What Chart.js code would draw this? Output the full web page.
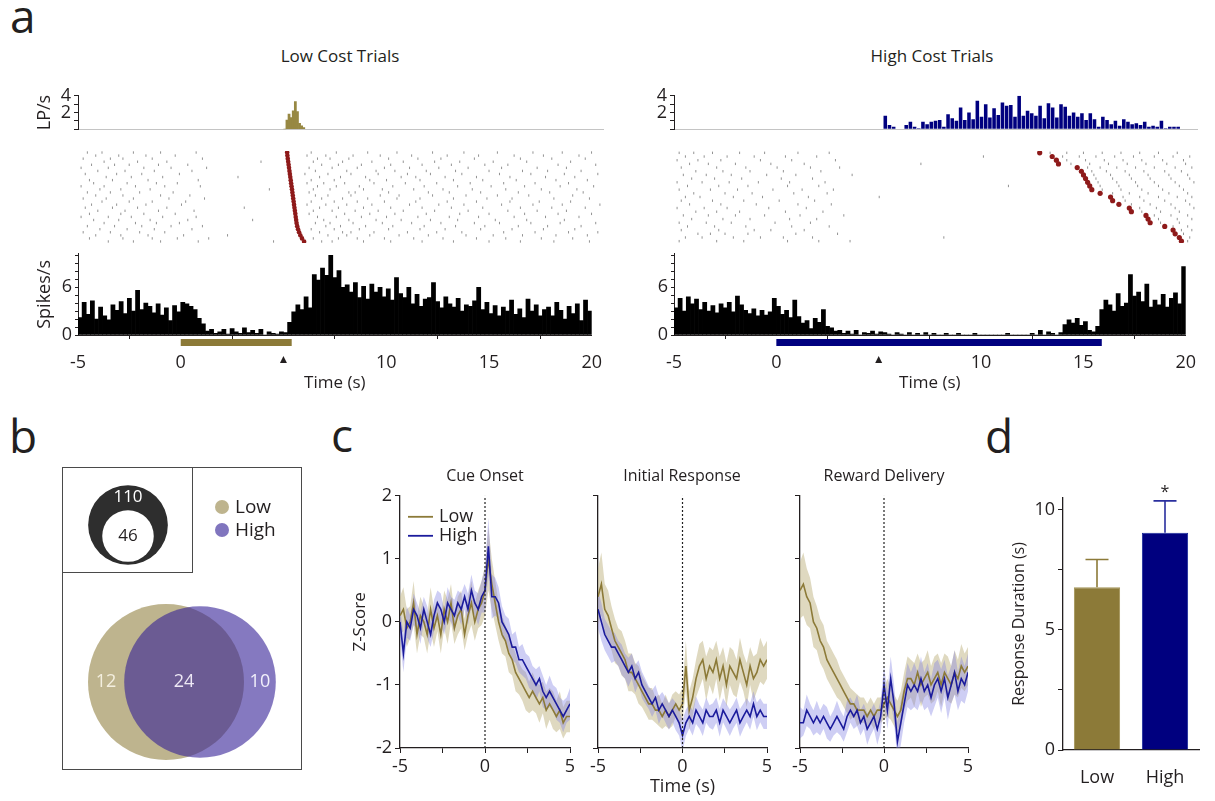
<!DOCTYPE html>
<html><head><meta charset="utf-8"><title>Figure</title>
<script src="https://cdn.jsdelivr.net/npm/chart.js@4.4.1/dist/chart.umd.min.js"></script>
<style>
html,body{margin:0;padding:0;background:#fff}
#fig{position:relative;width:1215px;height:801px;overflow:hidden;font-family:'Open Sans',sans-serif;color:#231f20}
#fig canvas{position:absolute}
.lab{position:absolute;white-space:nowrap;transform:translate(-50%,-50%);line-height:1}
.letter{position:absolute;font-size:46px;line-height:1}
.box{position:absolute;border:1px solid #4a4a4a;box-sizing:border-box}
</style></head><body><div id="fig">
<div class="letter" style="left:10px;top:-8px">a</div>
<div class="letter" style="left:9px;top:412px">b</div>
<div class="letter" style="left:331px;top:411px">c</div>
<div class="letter" style="left:985px;top:412px">d</div>
<div class="lab" style="left:340px;top:55px;font-size:17px">Low Cost Trials</div>
<div class="lab" style="left:932px;top:55px;font-size:17px">High Cost Trials</div>
<div class="lab" style="left:485px;top:475px;font-size:16px">Cue Onset</div>
<div class="lab" style="left:682px;top:475px;font-size:16px">Initial Response</div>
<div class="lab" style="left:884px;top:475px;font-size:16px">Reward Delivery</div>
</div>
<script>
// ================= DATA =================
// Panel a : peri-event histograms (0.2 s bins from -5 s to 20 s)
const spikeBinStart = -5, spikeBinWidth = 0.2;
const lowSpikeRate = [
  2.2,4.1,2.6,4.3,2.0, 3.5,2.4,1.9,3.8,3.1, 4.2,2.7,4.6,3.0,5.6, 3.2,4.0,3.6,2.8,3.9, 2.5,3.4,1.8,3.7,2.9,
  4.1,3.9,3.6,3.2,2.1, 1.4,0.5,0.7,0.2,0.4, 0.7,0.1,0.8,0.4,0.2, 0.9,0.3,0.6,0.2,0.7, 0.0,0.4,0.2,0.1,0.4,
  0.3,1.6,2.9,3.8,3.2, 4.8,3.4,7.6,6.9,8.4, 7.5,10.0,7.2,8.1,6.0, 6.3,5.4,6.6,4.7,6.1, 4.5,6.4,5.4,6.0,4.8,
  5.8,4.4,7.2,5.2,4.7, 6.0,3.9,5.1,3.6,4.5, 4.7,6.6,4.2,3.4,4.8, 3.9,3.5,4.6,3.0,3.8, 3.6,4.3,6.0,3.2,4.1,
  2.7,3.7,2.4,3.5,3.0, 4.4,2.6,3.3,2.2,4.5, 3.0,3.8,2.4,3.2,3.5, 2.4,4.1,3.1,2.0,3.6, 2.7,3.9,1.8,4.4,3.0
];
const highSpikeRate = [
  3.4,4.6,3.0,4.8,3.9, 4.5,3.2,4.1,3.0,3.7, 2.8,3.9,3.4,4.1,2.9, 4.9,3.8,3.1,2.7,3.3, 2.4,3.1,2.5,2.9,4.6,
  3.6,2.6,3.1,2.2,4.4, 2.3,1.5,1.8,0.8,2.1, 1.6,3.2,1.1,0.9,0.5, 0.6,0.2,0.5,0.1,0.6, 0.0,0.3,0.2,0.5,0.1,
  0.4,0.3,0.1,0.0,0.3, 0.1,0.0,0.3,0.0,0.2, 0.0,0.3,0.0,0.2,0.0, 0.0,0.2,0.0,0.0,0.2, 0.0,0.0,0.0,0.2,0.0,
  0.0,0.0,0.0,0.0,0.0, 0.0,0.2,0.0,0.0,0.0, 0.0,0.0,0.2,0.0,0.6, 0.0,0.4,0.2,0.0,0.3, 1.3,1.9,1.5,2.1,1.2,
  1.7,0.6,0.4,1.1,3.2, 4.4,3.8,3.0,5.2,3.6, 4.0,7.6,4.9,5.4,4.2, 6.4,3.5,4.4,3.8,5.1, 3.5,4.6,5.3,3.9,8.6
];
// lever presses per second
const lowLeverStart = 4.8, lowLeverWidth = 0.1;
const lowLeverRate = [0.0,1.1,1.8,1.4,2.2,3.3,2.1,0.7,0.4,0.2];
const highLeverStart = 5.0, highLeverWidth = 0.2;
const highLeverRate = [
  1.6,0.5,0.3,0,0, 0.5,0.9,0.3,0.1,0.9, 0.6,0.9,1.0,1.1,0.3, 1.8,1.3,1.0,2.6,1.1, 2.0,1.2,3.4,1.5,3.0,
  1.4,2.5,1.7,3.2,2.8, 2.9,1.5,4.0,1.6,2.2, 1.9,1.6,2.8,1.3,3.1, 2.6,1.4,3.0,2.7,1.6, 2.0,1.5,1.9,1.1,1.9,
  1.2,0.3,1.5,1.1,0.6, 1.0,0.4,1.2,0.9,0.6, 0.7,0.5,0.9,0.3,0.4, 0.3,1.0,0.1,0.3,0.3, 0.3,0.0
];
// cue period (s)
const lowCuePeriod = [0, 5.4];
const highCuePeriod = [0, 15.9];
// raster: lever press time per trial and spike times per trial
const lowPressTimes = [4.95,4.96,4.98,5.0,5.02,5.04,5.06,5.08,5.1,5.12,5.14,5.16,5.18,5.2,5.22,5.24,5.26,5.28,5.3,5.32,5.34,5.36,5.38,5.4,5.43,5.47,5.52,5.58,5.66,5.76];
const lowRaster = [
  [-4.6,-3.9,-2.4,-1.1,0.6,6.1,7.3,8.8,10.2,11.9,13.4,15.0,16.7,18.1,19.5],
  [-4.2,-3.1,-1.8,-0.4,5.9,6.8,8.1,9.4,10.9,12.6,14.1,15.8,17.2,18.9],
  [-4.8,-3.5,-2.9,-1.5,0.9,6.4,7.0,7.9,9.8,11.2,12.3,13.9,16.1,17.6,19.2],
  [-3.8,-2.2,-0.8,3.7,6.2,7.6,9.0,10.5,12.0,13.2,14.8,16.4,18.5],
  [-4.4,-3.3,-2.6,-1.2,0.2,6.6,7.4,8.5,9.9,11.4,12.8,14.4,15.5,17.9,19.7],
  [-4.9,-3.6,-1.9,-0.6,1.1,6.0,7.1,8.3,9.6,10.8,12.2,13.6,15.2,16.9,18.3],
  [-4.1,-2.8,-1.4,0.4,6.3,7.8,9.2,10.1,11.6,13.0,14.6,16.2,17.4,19.0],
  [-4.7,-3.2,-2.0,-0.2,5.8,6.9,8.0,9.3,10.7,11.8,13.3,15.1,16.6,18.2,19.8],
  [-3.7,-2.5,-1.0,2.6,6.5,7.5,8.7,10.4,11.1,12.5,14.0,15.6,17.3,18.7],
  [-4.5,-3.4,-1.7,0.7,6.1,7.2,8.9,9.7,11.3,12.9,14.3,15.9,17.8,19.3],
  [-4.3,-2.7,-1.3,-0.3,5.9,6.7,7.7,9.1,10.6,12.1,13.7,15.3,16.8,18.4],
  [-4.9,-3.8,-2.3,-0.9,0.8,6.4,7.3,8.4,10.0,11.5,13.1,14.7,16.3,18.0,19.6],
  [-4.0,-3.0,-1.6,4.1,6.2,7.0,8.6,9.5,11.0,12.4,13.8,15.4,17.1,18.8],
  [-4.6,-3.5,-2.1,-0.5,6.0,7.9,8.2,9.8,11.7,12.7,14.2,16.0,17.5,19.1],
  [-4.2,-2.9,-1.1,0.3,6.3,6.9,8.0,9.4,10.3,11.9,13.5,15.0,16.5,18.6],
  [-4.8,-3.7,-2.4,-0.7,1.0,6.6,7.6,8.8,10.2,11.3,12.9,14.5,15.7,17.7,19.4],
  [-3.9,-2.6,-1.5,0.1,6.1,7.2,8.3,9.6,11.1,12.6,14.0,15.6,17.0,18.5],
  [-4.4,-3.2,-1.8,-0.1,5.9,6.8,7.8,9.0,10.8,12.2,13.4,15.2,16.7,18.1,19.9],
  [-4.7,-3.4,-2.2,-0.8,2.9,6.5,7.4,8.6,9.9,11.4,12.8,14.3,16.1,17.6,19.2],
  [-4.1,-2.8,-1.2,0.5,6.2,7.1,8.2,9.3,10.5,12.0,13.6,15.5,16.9,18.3],
  [-4.5,-3.0,-1.9,-0.4,6.0,7.7,8.9,10.1,11.6,13.2,14.6,16.3,17.9,19.5],
  [-4.9,-3.6,-2.5,-1.0,0.6,6.4,7.3,8.5,9.7,11.2,12.7,14.1,15.8,17.3,18.9],
  [-4.3,-3.1,-1.6,0.2,3.3,6.7,7.9,9.2,10.4,11.8,13.1,14.9,16.4,18.2],
  [-3.8,-2.3,-1.3,-0.2,6.3,7.0,8.1,9.5,10.9,12.3,13.9,15.1,16.6,18.0,19.7],
  [-4.6,-3.3,-2.0,-0.6,0.9,6.8,7.5,8.7,10.0,11.5,13.0,14.4,16.0,17.4,19.0],
  [-4.0,-2.7,-1.4,0.4,6.1,7.2,8.4,9.8,11.3,12.5,14.2,15.7,17.2,18.7],
  [-4.8,-3.5,-2.1,-0.9,6.5,7.6,8.0,9.1,10.7,12.1,13.3,15.3,16.8,18.4,19.8],
  [-4.2,-3.0,-1.7,0.0,2.1,6.9,7.8,8.9,10.3,11.7,13.5,14.8,16.2,17.8,19.3],
  [-4.5,-2.9,-1.5,-0.3,1.2,6.2,7.4,8.3,9.6,11.0,12.4,14.0,15.4,17.1,18.6],
  [-3.6,-2.4,-1.1,0.7,4.3,6.6,7.1,8.6,9.9,11.4,12.9,14.6,16.1,17.7,19.4]
];
const highPressTimes = [12.5,13.1,13.3,13.4,14.3,14.5,14.6,14.7,14.8,14.9,15.0,15.4,15.9,16.0,16.3,16.8,16.9,17.6,17.7,17.8,18.5,18.9,19.0,19.2,19.3];
const highRaster = [
  [-4.8,-4.1,-3.2,-1.9,-0.7,0.9,2.4,13.0,13.8,14.6,15.5,16.4,17.3,18.2,19.1],
  [-4.5,-3.6,-2.5,-1.2,0.3,1.8,9.8,13.6,14.4,15.2,16.1,17.0,18.0,18.9,19.7],
  [-4.9,-3.9,-2.8,-0.9,0.6,2.7,13.8,14.7,15.6,16.5,17.4,18.4,19.4],
  [-4.3,-3.4,-2.1,-0.4,1.2,6.8,14.0,14.9,15.8,16.7,17.6,18.6,19.5],
  [-4.7,-3.0,-1.6,-0.1,1.5,2.9,14.8,15.4,16.2,17.1,18.0,19.0,19.8],
  [-4.0,-2.7,-1.4,0.2,2.0,15.0,15.7,16.6,17.5,18.5,19.3],
  [-4.6,-3.5,-2.3,-0.6,0.8,3.5,15.1,15.9,16.8,17.7,18.7,19.6],
  [-4.2,-3.1,-1.8,0.1,1.6,15.2,16.0,16.9,17.8,18.8,19.7],
  [-4.9,-3.7,-2.4,-1.0,0.5,2.2,15.3,16.2,17.1,18.0,19.0,19.9],
  [-4.4,-2.9,-1.5,0.4,1.9,11.0,15.4,16.3,17.2,18.2,19.2],
  [-4.8,-3.3,-2.0,-0.3,1.1,2.6,15.5,16.4,17.4,18.4,19.4],
  [-4.1,-2.6,-1.3,0.7,2.3,16.0,16.8,17.7,18.7,19.6],
  [-4.5,-3.8,-2.2,-0.8,1.4,4.8,16.5,17.3,18.2,19.1,19.8],
  [-4.7,-3.2,-1.7,0.0,1.7,16.6,17.5,18.5,19.5],
  [-4.3,-2.8,-1.1,0.9,2.5,16.9,17.8,18.8,19.7],
  [-4.9,-3.6,-2.5,-0.5,1.3,17.3,18.1,19.0,19.9],
  [-4.0,-3.0,-1.9,0.3,2.1,17.4,18.3,19.2],
  [-4.6,-3.4,-2.1,-0.7,1.0,3.1,18.0,18.8,19.6],
  [-4.2,-2.7,-1.4,0.5,1.8,18.2,19.1,19.8],
  [-4.8,-3.5,-2.3,-0.2,1.5,18.3,19.2],
  [-4.4,-3.1,-1.6,0.6,2.4,18.9,19.6],
  [-4.7,-2.9,-1.2,-0.4,1.2,19.3,19.8],
  [-3.9,-3.3,-2.6,-1.5,0.8,2.8,19.4],
  [-4.5,-3.7,-2.2,-0.9,0.2,1.6,7.9,19.7],
  [-4.8,-3.0,-1.7,0.4,1.9,3.4,19.6]
];

// Panel b : neuron counts
const insetTotal = 110, insetResponsive = 46;
const vennLowOnly = 12, vennBoth = 24, vennHighOnly = 10;
const vennNames = ['Low', 'High'];

// Panel c : Z-scored population activity (0.2 s steps)
const zTime = [-5,-4.8,-4.6,-4.4,-4.2,-4,-3.8,-3.6,-3.4,-3.2,-3,-2.8,-2.6,-2.4,-2.2,-2,-1.8,-1.6,-1.4,-1.2,
  -1,-0.8,-0.6,-0.4,-0.2,0,0.2,0.4,0.6,0.8,1,1.2,1.4,1.6,1.8,2,2.2,2.4,2.6,2.8,3,3.2,3.4,3.6,3.8,4,4.2,4.4,4.6,4.8,5];
const cueLow = [0.1,0.2,-0.1,0.0,0.3,-0.2,0.1,0.0,-0.2,0.2, -0.1,0.1,-0.2,0.2,0.0,0.3,-0.1,0.1,0.2,-0.2,
  0.1,0.3,0.0,0.2,0.3,0.5,1.0,0.6,0.3,0.0, -0.2,-0.3,-0.5,-0.6,-0.8,-0.9,-1.0,-1.1,-1.2,-1.1, -1.2,-1.3,-1.2,-1.4,-1.3,-1.4,-1.5,-1.4,-1.6,-1.5, -1.5];
const cueLowSem = [0.30,0.35,0.30,0.25,0.35,0.30,0.30,0.25,0.30,0.35, 0.30,0.25,0.30,0.30,0.35,0.30,0.25,0.30,0.30,0.25,
  0.30,0.35,0.30,0.30,0.35,0.40,0.50,0.40,0.35,0.30, 0.30,0.25,0.30,0.25,0.30,0.25,0.25,0.30,0.25,0.30, 0.25,0.30,0.25,0.30,0.25,0.30,0.25,0.30,0.25,0.25, 0.25];
const cueHigh = [0.0,-0.5,0.0,-0.1,0.2,0.1,-0.1,0.2,0.0,-0.2, 0.1,0.3,0.2,0.0,0.3,0.2,0.1,0.3,0.2,0.4,
  0.2,0.5,0.3,0.2,0.4,0.5,1.2,0.4,0.4,0.3, 0.0,-0.1,-0.2,-0.4,-0.4,-0.6,-0.6,-0.7,-0.8,-0.9, -1.0,-0.9,-1.1,-1.2,-1.1,-1.2,-1.3,-1.4,-1.5,-1.4, -1.3];
const cueHighSem = [0.25,0.30,0.25,0.20,0.25,0.20,0.25,0.20,0.25,0.20, 0.25,0.20,0.25,0.20,0.25,0.20,0.25,0.20,0.25,0.20,
  0.25,0.25,0.20,0.25,0.25,0.35,0.45,0.35,0.30,0.25, 0.25,0.20,0.25,0.20,0.25,0.20,0.25,0.20,0.25,0.20, 0.25,0.20,0.25,0.20,0.25,0.20,0.25,0.20,0.25,0.20, 0.25];
const respLow = [0.4,0.6,0.2,0.1,-0.1,-0.3,-0.4,-0.5,-0.6,-0.8, -0.8,-0.9,-1.0,-1.1,-1.2,-1.3,-1.3,-1.4,-1.4,-1.5,
  -1.4,-1.5,-1.4,-1.3,-1.4,-1.3,-0.7,-1.4,-1.2,-0.9, -0.7,-0.6,-0.9,-0.7,-0.8,-0.6,-0.9,-0.7,-1.0,-0.7, -0.8,-0.9,-0.6,-0.8,-1.0,-0.7,-0.9,-0.8,-0.6,-0.7, -0.6];
const respLowSem = [0.45,0.50,0.40,0.40,0.35,0.35,0.30,0.35,0.30,0.30, 0.30,0.25,0.30,0.25,0.25,0.25,0.25,0.20,0.25,0.20,
  0.25,0.20,0.25,0.20,0.25,0.25,0.40,0.30,0.30,0.30, 0.35,0.30,0.35,0.30,0.35,0.30,0.35,0.30,0.35,0.30, 0.35,0.30,0.35,0.30,0.35,0.30,0.35,0.30,0.35,0.30, 0.30];
const respHigh = [0.2,0.0,-0.2,-0.3,-0.4,-0.4,-0.5,-0.6,-0.7,-0.8, -0.7,-0.9,-0.8,-1.0,-1.1,-1.2,-1.3,-1.2,-1.4,-1.3,
  -1.4,-1.5,-1.4,-1.5,-1.6,-1.8,-1.6,-1.5,-1.6,-1.4, -1.5,-1.6,-1.4,-1.5,-1.5,-1.4,-1.6,-1.4,-1.5,-1.6, -1.5,-1.4,-1.6,-1.5,-1.4,-1.5,-1.3,-1.5,-1.4,-1.5, -1.5];
const respHighSem = [0.30,0.30,0.25,0.25,0.25,0.22,0.20,0.24,0.20,0.23, 0.20,0.22,0.19,0.21,0.20,0.18,0.21,0.20,0.22,0.19,
  0.20,0.21,0.19,0.22,0.20,0.24,0.21,0.19,0.20,0.22, 0.19,0.21,0.20,0.18,0.21,0.20,0.22,0.19,0.20,0.21, 0.19,0.20,0.22,0.20,0.19,0.21,0.20,0.22,0.19,0.20, 0.20];
const rewLow = [0.5,0.6,0.4,0.3,0.0,-0.1,-0.3,-0.4,-0.6,-0.7, -0.8,-0.9,-1.0,-1.1,-1.2,-1.3,-1.3,-1.4,-1.4,-1.4,
  -1.5,-1.4,-1.5,-1.4,-1.4,-1.3,-1.2,-1.3,-1.4,-1.5, -1.4,-1.1,-0.9,-0.9,-1.0,-0.8,-1.0,-0.9,-0.8,-1.0, -0.9,-0.8,-1.0,-0.8,-0.9,-1.0,-0.8,-0.9,-0.7,-0.8, -0.7];
const rewLowSem = [0.45,0.50,0.45,0.40,0.40,0.35,0.35,0.35,0.30,0.30, 0.30,0.30,0.25,0.25,0.25,0.25,0.20,0.25,0.20,0.20,
  0.20,0.20,0.20,0.20,0.20,0.25,0.30,0.25,0.25,0.25, 0.30,0.30,0.35,0.30,0.35,0.30,0.35,0.30,0.35,0.30, 0.35,0.30,0.35,0.30,0.35,0.30,0.35,0.30,0.35,0.30, 0.30];
const rewHigh = [-1.6,-1.6,-1.4,-1.5,-1.6,-1.5,-1.6,-1.5,-1.6,-1.7, -1.6,-1.5,-1.6,-1.7,-1.5,-1.4,-1.5,-1.4,-1.6,-1.5,
  -1.7,-1.6,-1.5,-1.7,-1.5,-1.0,-1.4,-0.9,-1.3,-1.9, -1.6,-1.3,-1.0,-1.1,-1.0,-1.1,-0.9,-1.1,-1.0,-1.2, -1.0,-0.9,-1.1,-0.9,-1.2,-1.0,-0.8,-1.1,-0.9,-1.0, -0.8];
const rewHighSem = [0.25,0.20,0.25,0.20,0.20,0.25,0.20,0.20,0.25,0.20, 0.20,0.25,0.20,0.20,0.25,0.20,0.20,0.25,0.20,0.20,
  0.25,0.20,0.20,0.25,0.25,0.30,0.30,0.35,0.30,0.30, 0.35,0.30,0.35,0.30,0.35,0.30,0.35,0.30,0.35,0.30, 0.35,0.30,0.35,0.30,0.35,0.30,0.35,0.30,0.35,0.30, 0.30];

// Panel d : response duration
const durCategories = ['Low', 'High'];
const durMean = [6.78, 9.05];
const durSem = [1.15, 1.32];
const durSignif = ['', '*'];

// ================= STYLE / HELPERS =================
const AX = '#231f20';
const GOLD = '#8c7a38', GOLD_LP = '#978843', NAVY = '#00007f', NAVY_LINE = '#1b1b9c', RED = '#8e1a1a';
const GOLD_BAND = 'rgba(196,186,140,0.55)', NAVY_BAND = 'rgba(125,125,225,0.38)';
Chart.defaults.font.family = "'Open Sans', sans-serif";
Chart.defaults.color = AX;
Chart.defaults.animation = false;
Chart.defaults.responsive = false;
Chart.defaults.maintainAspectRatio = false;
Chart.defaults.devicePixelRatio = 1;
Chart.defaults.events = [];
Chart.defaults.plugins.legend.display = false;
Chart.defaults.plugins.tooltip.enabled = false;

const fig = document.getElementById('fig');
function cv(l, t, w, h) {
  const c = document.createElement('canvas');
  c.width = w; c.height = h;
  Object.assign(c.style, {left: l + 'px', top: t + 'px', width: w + 'px', height: h + 'px'});
  fig.insertBefore(c, fig.firstChild);
  return c;
}
const hist = (start, w, vals) => vals.map((v, i) => ({x: +(start + w * (i + 0.5)).toFixed(3), y: v}));
const xy = (ys) => ys.map((v, i) => ({x: zTime[i], y: v}));
const addSem = (m, s, sign) => m.map((v, i) => ({x: zTime[i], y: v + sign * s[i]}));

// ================= PANEL a =================
function panelA(cfg) {
  const L = cfg.axL, R = cfg.axR, yw = cfg.yTitles ? 44 : 30;
  const cl = L - yw, cw = R + 12 - cl;
  const axisGrid = {drawOnChartArea: false, tickLength: 4, color: AX, lineWidth: 1};
  // Lever presses histogram
  new Chart(cv(cl, 82, cw, 61), {
    type: 'bar',
    data: {datasets: [{data: hist(cfg.lpStart, cfg.lpWidth, cfg.lpRate), backgroundColor: cfg.lpColor,
      barPercentage: cfg.lpBarPct, categoryPercentage: 1, borderWidth: 0}]},
    options: {
      layout: {padding: {top: 12, right: 12, left: 0, bottom: 0}},
      scales: {
        x: {type: 'linear', min: -5, max: 20, offset: false, afterFit: s => { s.height = 0; },
            ticks: {display: false}, grid: {display: false}, border: {color: '#c4c4c4', width: 1}},
        y: {min: 0, max: 4, afterFit: s => { s.width = yw; },
            ticks: {stepSize: 1, includeBounds: false, autoSkip: false, padding: 3, font: {size: 18},
                    callback: v => (v === 2 || v === 4) ? String(v) : ''},
            grid: axisGrid, border: {color: AX},
            title: {display: cfg.yTitles, text: 'LP/s', font: {size: 18}, padding: 0}}
      }
    }
  });
  // Raster
  const n = cfg.press.length;
  new Chart(cv(L - 4, 146, R - L + 8, 102), {
    type: 'scatter',
    data: {datasets: [
      {data: cfg.press.map((t, i) => ({x: t, y: i})), pointStyle: 'circle', pointRadius: cfg.pressR,
       backgroundColor: RED, borderWidth: 0},
      {data: cfg.raster.flatMap((row, i) => row.map(t => ({x: t, y: i}))), pointStyle: 'line', rotation: 90,
       pointRadius: 1.2, borderColor: 'rgba(40,40,40,0.5)', borderWidth: 1}
    ]},
    options: {
      layout: {padding: 4},
      scales: {x: {display: false, min: -5, max: 20}, y: {display: false, min: -0.5, max: n - 0.5, reverse: true}}
    }
  });
  // Spike histogram
  new Chart(cv(cl, 240, cw, 153), {
    type: 'bar',
    data: {datasets: [
      {type: 'line', data: [{x: cfg.cue[0], y: -0.95}, {x: cfg.cue[1], y: -0.95}], borderColor: cfg.cueColor,
       borderWidth: 7, pointRadius: 0, clip: false, borderCapStyle: 'butt'},
      {data: hist(spikeBinStart, spikeBinWidth, cfg.spikes), backgroundColor: '#000', barPercentage: 1,
       categoryPercentage: 1, borderWidth: 0}
    ]},
    options: {
      layout: {padding: {top: 12, right: 12, left: 0, bottom: 0}},
      scales: {
        x: {type: 'linear', min: -5, max: 20, offset: false, afterFit: s => { s.height = 58; },
            ticks: {stepSize: 5, padding: 13, maxRotation: 0, autoSkip: false,
                    font: ctx => ({size: (ctx.tick && ctx.tick.value === 5) ? 12 : 18}),
                    callback: v => v === 5 ? '▲' : String(v)},
            grid: axisGrid, border: {color: AX},
            title: {display: true, text: 'Time (s)', font: {size: 17}, padding: 0}},
        y: {min: 0, max: 10.2, afterFit: s => { s.width = yw; },
            ticks: {stepSize: 1, includeBounds: false, autoSkip: false, padding: 3, font: {size: 18},
                    callback: v => (v === 0 || v === 6) ? String(v) : ''},
            grid: {drawOnChartArea: false, tickLength: 3, color: AX, lineWidth: 1}, border: {color: AX},
            title: {display: cfg.yTitles, text: 'Spikes/s', font: {size: 18}, padding: 0}}
      }
    }
  });
}
panelA({axL: 78, axR: 603, yTitles: true, lpStart: lowLeverStart, lpWidth: lowLeverWidth, lpRate: lowLeverRate,
  lpColor: GOLD_LP, lpBarPct: 1, press: lowPressTimes, raster: lowRaster, pressR: 2.3, spikes: lowSpikeRate,
  cue: lowCuePeriod, cueColor: GOLD});
panelA({axL: 674, axR: 1197, yTitles: false, lpStart: highLeverStart, lpWidth: highLeverWidth, lpRate: highLeverRate,
  lpColor: NAVY, lpBarPct: 0.85, press: highPressTimes, raster: highRaster, pressR: 2.6, spikes: highSpikeRate,
  cue: highCuePeriod, cueColor: NAVY});

// ================= PANEL b =================
const vennPlugin = {
  id: 'vennText',
  afterDatasetsDraw(chart) {
    const {ctx} = chart;
    const m = i => chart.getDatasetMeta(i).data[0];
    const hole = m(0), ring = m(1), hi = m(2), lo = m(3);
    const rHi = chart.data.datasets[2].data[0].r, rLo = chart.data.datasets[3].data[0].r;
    const rRing = chart.data.datasets[1].data[0].r;
    ctx.save();
    ctx.textAlign = 'center'; ctx.textBaseline = 'middle';
    ctx.font = "17px 'Open Sans', sans-serif";
    ctx.fillStyle = '#ffffff';
    ctx.fillText(String(insetTotal), ring.x, ring.y - rRing + 12);
    ctx.fillStyle = AX;
    ctx.fillText(String(insetResponsive), hole.x, hole.y);
    ctx.font = "18px 'Open Sans', sans-serif";
    const loL = lo.x - rLo, loR = lo.x + rLo, hiL = hi.x - rHi, hiR = hi.x + rHi;
    ctx.fillStyle = '#f4efdf'; ctx.fillText(String(vennLowOnly), (loL + hiL) / 2, lo.y);
    ctx.fillStyle = '#ede8f5'; ctx.fillText(String(vennBoth), (hiL + loR) / 2, lo.y);
    ctx.fillStyle = '#f2f0fb'; ctx.fillText(String(vennHighOnly), (loR + hiR) / 2, hi.y);
    // legend
    const cols = [chart.data.datasets[3].backgroundColor, 'rgb(128,117,190)'];
    ctx.font = "19px 'Open Sans', sans-serif"; ctx.textAlign = 'left';
    vennNames.forEach((nm, i) => {
      const y = 40 + i * 23;
      ctx.fillStyle = cols[i];
      ctx.beginPath(); ctx.arc(160, y, 7, 0, Math.PI * 2); ctx.fill();
      ctx.fillStyle = AX; ctx.fillText(nm, 173, y + 1);
    });
    ctx.restore();
  }
};
(function () {
  const kI = 3.8, kV = 13.0;
  const rRing = kI * Math.sqrt(insetTotal), rHole = kI * Math.sqrt(insetResponsive);
  const rLo = kV * Math.sqrt(vennLowOnly + vennBoth), rHi = kV * Math.sqrt(vennHighOnly + vennBoth);
  const ring = {cx: 66, cy: 58}, venn = {cx: 104, cy: 215, gap: 34};
  new Chart(cv(62, 467, 240, 303), {
    type: 'bubble',
    data: {datasets: [
      {data: [{x: ring.cx, y: ring.cy + (rRing - rHole) - 3, r: rHole}], backgroundColor: '#ffffff', borderWidth: 0, clip: false},
      {data: [{x: ring.cx, y: ring.cy, r: rRing}], backgroundColor: '#2e2e2e', borderWidth: 0, clip: false},
      {data: [{x: venn.cx + venn.gap, y: venn.cy, r: rHi}], backgroundColor: 'rgba(52,32,150,0.6)', borderWidth: 0, clip: false},
      {data: [{x: venn.cx, y: venn.cy, r: rLo}], backgroundColor: 'rgb(190,180,142)', borderWidth: 0, clip: false}
    ]},
    options: {
      layout: {padding: 0, autoPadding: false},
      scales: {x: {display: false, min: 0, max: 240}, y: {display: false, min: 0, max: 303, reverse: true}}
    },
    plugins: [vennPlugin]
  });
  const b1 = document.createElement('div'); b1.className = 'box';
  Object.assign(b1.style, {left: '62px', top: '467px', width: '240px', height: '303px'});
  const b2 = document.createElement('div'); b2.className = 'box';
  Object.assign(b2.style, {left: '62px', top: '467px', width: '131px', height: '106px'});
  fig.appendChild(b1); fig.appendChild(b2);
})();

// ================= PANEL c =================
const zLegend = {
  id: 'zLegend',
  afterDraw(chart) {
    if (!chart.options.plugins.zLegend || !chart.options.plugins.zLegend.show) return;
    const {ctx, chartArea: a} = chart;
    ctx.save();
    ctx.font = "18px 'Open Sans', sans-serif"; ctx.textBaseline = 'middle'; ctx.textAlign = 'left';
    chart.data.datasets.filter(d => d.legendLabel).sort((p, q) => q.order - p.order).forEach((d, i) => {
      const y = a.top + 21 + i * 19;
      ctx.strokeStyle = d.borderColor; ctx.lineWidth = 1.8;
      ctx.beginPath(); ctx.moveTo(a.left + 8, y); ctx.lineTo(a.left + 33, y); ctx.stroke();
      ctx.fillStyle = AX; ctx.fillText(d.legendLabel, a.left + 39, y);
    });
    ctx.restore();
  }
};
function panelC(cfg) {
  const top = 494, bot = 748, cl = cfg.l - cfg.yw, cr = cfg.r + 10;
  const noPt = {pointRadius: 0, tension: 0};
  new Chart(cv(cl, top - 12, cr - cl, bot + 50 - (top - 12)), {
    type: 'line',
    data: {datasets: [
      {data: [{x: 0, y: -2}, {x: 0, y: 2}], borderColor: '#222', borderWidth: 1.2, borderDash: [2, 2], order: 0, ...noPt},
      {legendLabel: 'High', data: xy(cfg.high), borderColor: NAVY_LINE, borderWidth: 1.6, order: 1, ...noPt},
      {legendLabel: 'Low', data: xy(cfg.low), borderColor: GOLD, borderWidth: 1.6, order: 2, ...noPt},
      {data: addSem(cfg.high, cfg.highSem, 1), fill: '+1', backgroundColor: NAVY_BAND, borderWidth: 0, order: 3, ...noPt},
      {data: addSem(cfg.high, cfg.highSem, -1), fill: false, borderWidth: 0, order: 4, ...noPt},
      {data: addSem(cfg.low, cfg.lowSem, 1), fill: '+1', backgroundColor: GOLD_BAND, borderWidth: 0, order: 5, ...noPt},
      {data: addSem(cfg.low, cfg.lowSem, -1), fill: false, borderWidth: 0, order: 6, ...noPt}
    ]},
    options: {
      layout: {padding: {top: 12, right: 10, left: 0, bottom: 0}},
      plugins: {zLegend: {show: cfg.legend}},
      scales: {
        x: {type: 'linear', min: -5, max: 5, afterFit: s => { s.height = 50; },
            ticks: {stepSize: 2.5, padding: 3, font: {size: 18}, maxRotation: 0, autoSkip: false,
                    callback: v => (v % 5 === 0) ? String(v) : ''},
            grid: {drawOnChartArea: false, tickLength: 5, color: AX}, border: {color: AX, width: 1.3},
            title: {display: cfg.xTitle, text: 'Time (s)', font: {size: 18}, padding: 0}},
        y: {min: -2, max: 2, afterFit: s => { s.width = cfg.yw; },
            ticks: {stepSize: 1, padding: 3, autoSkip: false, font: {size: 18}, callback: v => cfg.yLabels ? String(v) : ''},
            grid: {drawOnChartArea: false, tickLength: 5, color: AX}, border: {color: AX, width: 1.3},
            title: {display: cfg.yLabels, text: 'Z-Score', font: {size: 17}, padding: 0}}
      }
    },
    plugins: [zLegend]
  });
}
panelC({l: 400, r: 570, yw: 50, yLabels: true, xTitle: false, legend: true,
  low: cueLow, lowSem: cueLowSem, high: cueHigh, highSem: cueHighSem});
panelC({l: 598, r: 767, yw: 12, yLabels: false, xTitle: true, legend: false,
  low: respLow, lowSem: respLowSem, high: respHigh, highSem: respHighSem});
panelC({l: 800, r: 968, yw: 12, yLabels: false, xTitle: false, legend: false,
  low: rewLow, lowSem: rewLowSem, high: rewHigh, highSem: rewHighSem});

// ================= PANEL d =================
const errPlugin = {
  id: 'errBars',
  afterDatasetsDraw(chart) {
    const {ctx} = chart, ys = chart.scales.y, meta = chart.getDatasetMeta(0);
    const cols = [GOLD, '#2a2f9e'];
    ctx.save();
    meta.data.forEach((bar, i) => {
      const yTop = ys.getPixelForValue(durMean[i] + durSem[i]);
      ctx.strokeStyle = cols[i]; ctx.lineWidth = 1.6;
      ctx.beginPath();
      ctx.moveTo(bar.x, bar.y); ctx.lineTo(bar.x, yTop);
      ctx.moveTo(bar.x - 11.5, yTop); ctx.lineTo(bar.x + 11.5, yTop);
      ctx.stroke();
      if (durSignif[i]) {
        ctx.fillStyle = AX; ctx.font = "16px 'Open Sans', sans-serif";
        ctx.textAlign = 'center'; ctx.textBaseline = 'middle';
        ctx.fillText(durSignif[i], bar.x, yTop - 8);
      }
    });
    ctx.restore();
  }
};
new Chart(cv(1010, 484, 195, 306), {
  type: 'bar',
  data: {labels: durCategories, datasets: [{data: durMean, backgroundColor: [GOLD, NAVY],
    borderColor: ['#a29356', '#1a2a9a'], borderWidth: 1, barPercentage: 0.68, categoryPercentage: 1}]},
  options: {
    layout: {padding: {top: 12, right: 6, left: 0, bottom: 0}},
    scales: {
      x: {afterFit: s => { s.height = 40; }, ticks: {font: {size: 18}, padding: 9}, grid: {display: false},
          border: {color: AX, width: 1.3}},
      y: {min: 0, max: 10.5, afterFit: s => { s.width = 53; },
          ticks: {stepSize: 2.5, includeBounds: false, autoSkip: false, padding: 3, font: {size: 18},
                  callback: v => (v % 5 === 0) ? String(v) : ''},
          grid: {drawOnChartArea: false, tickLength: 5, color: AX}, border: {color: AX, width: 1.3},
          title: {display: true, text: 'Response Duration (s)', font: {size: 16}, padding: 0}}
    }
  },
  plugins: [errPlugin]
});
</script></body></html>
